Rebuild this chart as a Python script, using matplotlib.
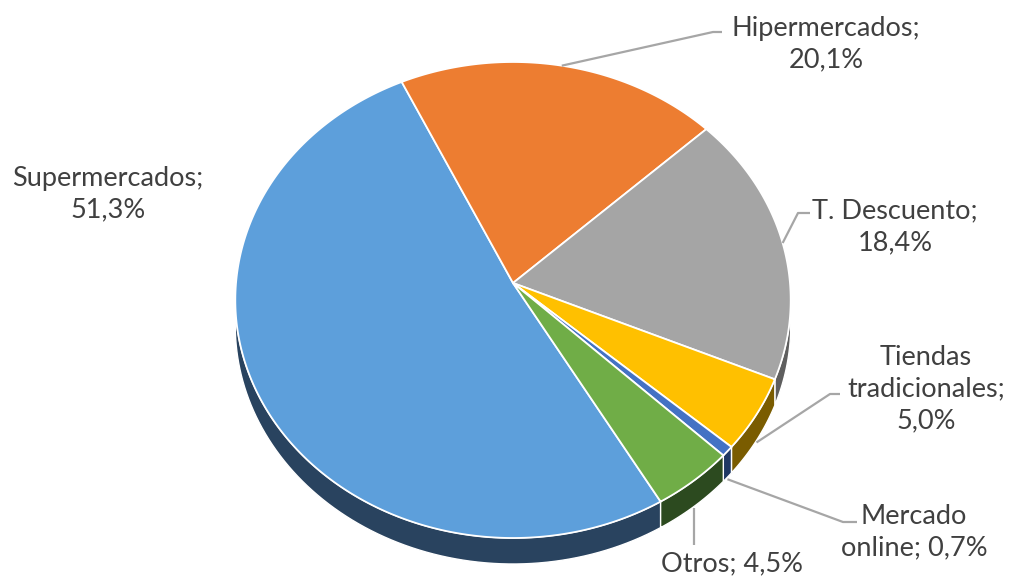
import numpy as np
import matplotlib.pyplot as plt
from matplotlib.patches import Polygon

# Share of sales by channel (%), Excel order: first slice at 150 deg, clockwise
categories = ["Supermercados", "Hipermercados", "T. Descuento",
              "Tiendas\ntradicionales", "Mercado\nonline", "Otros"]
shares = [51.3, 20.1, 18.4, 5.0, 0.7, 4.5]
top_colors = ["#5d9fdb", "#ed7d31", "#a5a5a5", "#ffc000", "#4472c4", "#70ad47"]
side_colors = ["#29435f", "#8a4516", "#5e5e5e", "#7a5c00", "#1f3864", "#2c4a1f"]

# label layout: text centre, separator before the value, leader elbow/end
label_pos = [(108, 194), (826, 44), (895, 227), (926, 389), (914, 532), (732, 564)]
value_sep = ["\n", "\n", "\n", "\n", " ", " "]
leader_elbow = [None, (713, 32), (798, 213), (830, 394), (843, 522), (None, 545)]
leader_end = [None, (722, 32), (810, 213), (840, 394), (857, 522), (None, 545)]
anchor_on_side = [False, False, False, True, True, True]

START = 150.0
CX, CY = 513, 283
RX, RY = 277, 236.8
PERSP = 0.0714
DEPTH = 26
TEXT = "#404040"
LINE = "#a6a6a6"


def project(phi_deg, dy=0.0):
    phi = np.radians(phi_deg)
    u, v = np.sin(phi), -np.cos(phi)
    w = 1 - PERSP * v
    return np.column_stack([CX + RX * u / w, CY + RY * v / w + dy])


def pct(v):
    return f"{v:.1f}".replace(".", ",") + "%"


fig = plt.figure(figsize=(10.1, 5.78), dpi=100)
ax = fig.add_axes([0, 0, 1, 1])
ax.set_xlim(0, 1010)
ax.set_ylim(578, 0)
ax.axis("off")

bounds = START + 3.6 * np.concatenate([[0], np.cumsum(shares)])
# side wall is visible between the leftmost and rightmost points of the rim
vis_lo = np.degrees(np.arccos(-PERSP))
vis_hi = 360 - vis_lo

for i in range(len(shares)):
    a0, a1 = bounds[i], bounds[i + 1]
    for k in (0, 360):
        lo, hi = max(a0, vis_lo + k), min(a1, vis_hi + k)
        if hi > lo:
            t = np.linspace(lo, hi, 80)
            pts = np.vstack([project(t), project(t[::-1], DEPTH)])
            ax.add_patch(Polygon(pts, closed=True, fc=side_colors[i],
                                 ec="white", lw=1.0, zorder=1))
    # top face
    t = np.linspace(a0, a1, 200)
    pts = np.vstack([[CX, CY], project(t)])
    ax.add_patch(Polygon(pts, closed=True, fc=top_colors[i],
                         ec="white", lw=1.3, zorder=2))

for i, name in enumerate(categories):
    txt = f"{name};{value_sep[i]}{pct(shares[i])}"
    ax.text(label_pos[i][0], label_pos[i][1], txt, ha="center", va="center",
            multialignment="center", fontsize=19.5, color=TEXT,
            family=["Lato", "DejaVu Sans"], linespacing=1.33, zorder=4)
    if leader_end[i] is None:
        continue
    mid = (bounds[i] + bounds[i + 1]) / 2
    px, py = project(np.array([mid]), DEPTH + 2 if anchor_on_side[i] else 0)[0]
    ex, ey = leader_elbow[i]
    fx, fy = leader_end[i]
    if ex is None:
        ex = fx = px
    ax.plot([px, ex, fx], [py, ey, fy], color=LINE, lw=1.6,
            solid_capstyle="butt", zorder=3)

fig.savefig("out.png", dpi=100)
